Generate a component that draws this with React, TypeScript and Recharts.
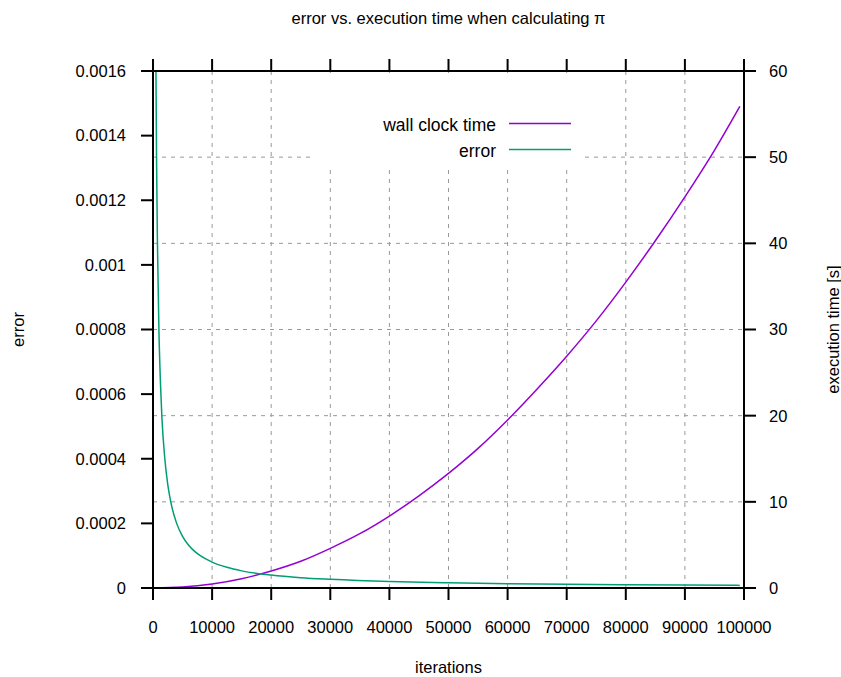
import { CartesianGrid, Label, Legend, Line, LineChart, XAxis, YAxis } from 'recharts'

const xTicks = [0, 10000, 20000, 30000, 40000, 50000, 60000, 70000, 80000, 90000, 100000]
const errorTicks = [0, 0.0002, 0.0004, 0.0006, 0.0008, 0.001, 0.0012, 0.0014, 0.0016]
const timeTicks = [0, 10, 20, 30, 40, 50, 60]

// wall clock time [s] vs iterations
const timeIterations = [0, 5000, 10000, 15000, 20000, 25000, 30000, 35000, 40000, 45000, 50000, 55000, 60000, 65000, 70000, 75000, 80000, 85000, 90000, 95000, 99300]
const timeSeconds = [0, 0.11, 0.46, 1.07, 1.97, 3.1, 4.6, 6.3, 8.35, 10.7, 13.3, 16.2, 19.5, 23.1, 26.9, 31.0, 35.5, 40.3, 45.4, 50.8, 55.9]

// error vs iterations
const errorIterations = [500, 600, 750, 1000, 1250, 1500, 2000, 2500, 3000, 4000, 5000, 6000, 7000, 8000, 10000, 12500, 15000, 20000, 25000, 30000, 40000, 50000, 60000, 70000, 80000, 90000, 99300]
const errorValues = [0.0016, 0.00133, 0.00107, 0.0008, 0.00064, 0.00053, 0.0004, 0.00032, 0.000267, 0.0002, 0.00016, 0.000133, 0.000114, 0.0001, 0.00008, 0.000064, 0.000053, 0.00004, 0.000032, 0.000027, 0.00002, 0.000016, 0.0000133, 0.0000114, 0.00001, 0.0000089, 0.0000081]

const timeData = timeIterations.map((n, i) => ({ n, t: timeSeconds[i] }))
const errorData = errorIterations.map((n, i) => ({ n, e: errorValues[i] }))

const FONT = '"Liberation Sans", Arial, sans-serif'
const FS = 16.5
const PURPLE = '#9400d3'
const GREEN = '#009e73'

const tickStyle = { fill: '#000', fontSize: FS, fontFamily: FONT }
const axisLine = { stroke: '#000', strokeWidth: 2 }

const legendItems = [
  { name: 'wall clock time', color: PURPLE },
  { name: 'error', color: GREEN },
]

// white key box, drawn over the grid like gnuplot does
const LegendBox = () => (
  <svg width={270} height={95} style={{ display: 'block', background: '#fff' }}>
    {legendItems.map((item, i) => {
      const cy = 52 + i * 26
      return (
        <g key={item.name}>
          <text
            x={183}
            y={cy}
            textAnchor="end"
            dominantBaseline="central"
            fontFamily={FONT}
            fontSize={17.5}
            fill="#000"
          >
            {item.name}
          </text>
          <line x1={196} x2={258} y1={cy - 1.5} y2={cy - 1.5} stroke={item.color} strokeWidth={1.5} />
        </g>
      )
    })}
  </svg>
)

export default function App() {
  return (
    <div style={{ position: 'absolute', left: 0, top: 0, width: 841, height: 677, background: '#fff' }}>
      <LineChart width={841} height={677} margin={{ top: 51, right: 37, bottom: 39, left: 73 }}>
        <CartesianGrid yAxisId="right" stroke="#999" strokeDasharray="4 5" strokeWidth={1} />
        <XAxis
          type="number"
          dataKey="n"
          domain={[0, 100000]}
          ticks={xTicks}
          height={50}
          tick={tickStyle}
          tickSize={12}
          tickMargin={21}
          axisLine={axisLine}
          tickLine={axisLine}
          allowDataOverflow
        >
          <Label
            content={({ viewBox }: any) => (
              <text
                x={viewBox.x + viewBox.width / 2}
                y={viewBox.y + 79}
                textAnchor="middle"
                dominantBaseline="central"
                fontFamily={FONT}
                fontSize={FS}
              >
                iterations
              </text>
            )}
          />
        </XAxis>
        <XAxis
          xAxisId="top"
          orientation="top"
          type="number"
          dataKey="n"
          domain={[0, 100000]}
          ticks={xTicks}
          height={20}
          tick={() => <g />}
          tickSize={12}
          axisLine={axisLine}
          tickLine={axisLine}
          allowDataOverflow
        >
          <Label
            content={({ viewBox }: any) => (
              <text
                x={viewBox.x + viewBox.width / 2}
                y={viewBox.y + viewBox.height - 53}
                textAnchor="middle"
                dominantBaseline="central"
                fontFamily={FONT}
                fontSize={FS}
              >
                error vs. execution time when calculating π
              </text>
            )}
          />
        </XAxis>
        <YAxis
          yAxisId="left"
          domain={[0, 0.0016]}
          ticks={errorTicks}
          width={80}
          tick={tickStyle}
          tickSize={12}
          tickMargin={15}
          axisLine={axisLine}
          tickLine={axisLine}
          allowDataOverflow
        >
          <Label
            content={({ viewBox }: any) => {
              const x = viewBox.x + viewBox.width - 135
              const y = viewBox.y + viewBox.height / 2
              return (
                <text
                  x={x}
                  y={y}
                  transform={`rotate(-90, ${x}, ${y})`}
                  textAnchor="middle"
                  dominantBaseline="central"
                  fontFamily={FONT}
                  fontSize={FS}
                >
                  error
                </text>
              )
            }}
          />
        </YAxis>
        <YAxis
          yAxisId="right"
          orientation="right"
          domain={[0, 60]}
          ticks={timeTicks}
          width={60}
          tick={tickStyle}
          tickSize={12}
          tickMargin={13}
          axisLine={axisLine}
          tickLine={axisLine}
          allowDataOverflow
        >
          <Label
            content={({ viewBox }: any) => {
              const x = viewBox.x + 89
              const y = viewBox.y + viewBox.height / 2
              return (
                <text
                  x={x}
                  y={y}
                  transform={`rotate(-90, ${x}, ${y})`}
                  textAnchor="middle"
                  dominantBaseline="central"
                  fontFamily={FONT}
                  fontSize={FS}
                >
                  execution time [s]
                </text>
              )
            }}
          />
        </YAxis>
        <Legend
          layout="vertical"
          align="center"
          verticalAlign="middle"
          content={() => <LegendBox />}
          wrapperStyle={{ position: 'absolute', left: 313, top: 73, width: 270, height: 95 }}
        />
        <Line
          yAxisId="right"
          data={timeData}
          dataKey="t"
          name="wall clock time"
          type="monotone"
          stroke={PURPLE}
          strokeWidth={1.5}
          dot={false}
          isAnimationActive={false}
        />
        <Line
          yAxisId="left"
          data={errorData}
          dataKey="e"
          name="error"
          type="monotone"
          stroke={GREEN}
          strokeWidth={1.5}
          dot={false}
          isAnimationActive={false}
        />
      </LineChart>
    </div>
  )
}
